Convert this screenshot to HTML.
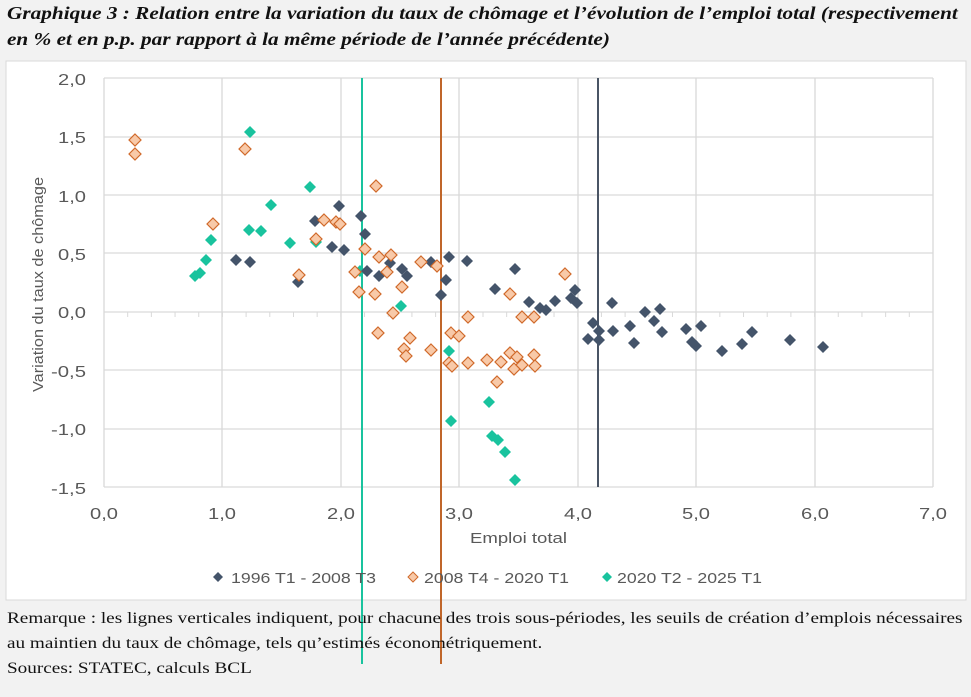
<!DOCTYPE html>
<html><head><meta charset="utf-8"><style>
body{margin:0;width:971px;height:697px;background:#f2f2f2;overflow:hidden;position:relative;font-family:"Liberation Sans",sans-serif}
.t{position:absolute;left:7px;font-family:"Liberation Serif",serif;font-weight:bold;font-style:italic;font-size:17.5px;color:#111;white-space:nowrap;transform-origin:0 0;transform:scaleX(1.215)}
.r{position:absolute;left:7px;font-family:"Liberation Serif",serif;font-size:16px;color:#111;white-space:nowrap;transform-origin:0 0;transform:scaleX(1.2)}
svg{position:absolute;left:0;top:0}
</style></head><body>
<div class="t" style="top:3px">Graphique 3 : Relation entre la variation du taux de chômage et l’évolution de l’emploi total (respectivement</div>
<div class="t" style="top:29px">en % et en p.p. par rapport à la même période de l’année précédente)</div>
<svg width="971" height="697" viewBox="0 0 971 697">
<rect x="6" y="61" width="960" height="539" fill="#fff" stroke="#d9d9d9"/>
<g stroke="#d9d9d9" stroke-width="1.3">
<line x1="104" y1="78" x2="933" y2="78"/><line x1="104" y1="137" x2="933" y2="137"/><line x1="104" y1="195" x2="933" y2="195"/><line x1="104" y1="253" x2="933" y2="253"/><line x1="104" y1="370" x2="933" y2="370"/><line x1="104" y1="429" x2="933" y2="429"/><line x1="104" y1="487" x2="933" y2="487"/>
<line x1="104" y1="78" x2="104" y2="487"/><line x1="222" y1="78" x2="222" y2="487"/><line x1="341" y1="78" x2="341" y2="487"/><line x1="459" y1="78" x2="459" y2="487"/><line x1="578" y1="78" x2="578" y2="487"/><line x1="696" y1="78" x2="696" y2="487"/><line x1="815" y1="78" x2="815" y2="487"/><line x1="933" y1="78" x2="933" y2="487"/>
<line x1="104" y1="312" x2="933" y2="312"/>
</g>
<g stroke="#d9d9d9" stroke-width="1" id="tk"></g>
<g font-size="16" fill="#595959" text-anchor="end" lengthAdjust="spacingAndGlyphs">
<text x="86" y="85" textLength="28">2,0</text><text x="86" y="143" textLength="28">1,5</text><text x="86" y="202" textLength="28">1,0</text><text x="86" y="260" textLength="28">0,5</text><text x="86" y="318" textLength="28">0,0</text><text x="86" y="377" textLength="35">-0,5</text><text x="86" y="435" textLength="35">-1,0</text><text x="86" y="494" textLength="35">-1,5</text>
</g>
<g font-size="16" fill="#595959" text-anchor="middle">
<text x="104" y="519" textLength="28">0,0</text><text x="222" y="519" textLength="28">1,0</text><text x="341" y="519" textLength="28">2,0</text><text x="459" y="519" textLength="28">3,0</text><text x="578" y="519" textLength="28">4,0</text><text x="696" y="519" textLength="28">5,0</text><text x="815" y="519" textLength="28">6,0</text><text x="933" y="519" textLength="28">7,0</text>
</g>
<g font-size="15" fill="#595959">
<text x="470" y="543" textLength="97" lengthAdjust="spacingAndGlyphs">Emploi total</text>
<text transform="translate(43,392) rotate(-90)" textLength="215" lengthAdjust="spacingAndGlyphs">Variation du taux de chômage</text>
</g>
<line x1="362" y1="78" x2="362" y2="664" stroke="#19c39e" stroke-width="2"/>
<line x1="441" y1="78" x2="441" y2="664" stroke="#c0662a" stroke-width="2"/>
<line x1="598" y1="78" x2="598" y2="487" stroke="#4a5565" stroke-width="2"/>
<g id="pts"></g>
<g font-size="15" fill="#595959">
<path d="M218 572 l5 5 -5 5 -5 -5z" fill="#44546a"/><text x="231" y="583" textLength="145" lengthAdjust="spacingAndGlyphs">1996 T1 - 2008 T3</text>
<path d="M413 572 l5 5 -5 5 -5 -5z" fill="#f8c9a8" stroke="#d0692a"/><text x="424" y="583" textLength="145" lengthAdjust="spacingAndGlyphs">2008 T4 - 2020 T1</text>
<path d="M607 572 l5 5 -5 5 -5 -5z" fill="#19c39e"/><text x="617" y="583" textLength="145" lengthAdjust="spacingAndGlyphs">2020 T2 - 2025 T1</text>
</g>
</svg>
<div class="r" style="top:610px">Remarque : les lignes verticales indiquent, pour chacune des trois sous-périodes, les seuils de création d’emplois nécessaires</div>
<div class="r" style="top:635px">au maintien du taux de chômage, tels qu’estimés économétriquement.</div>
<div class="r" style="top:660px">Sources: STATEC, calculs BCL</div>
<script>
var ns="http://www.w3.org/2000/svg";
document.querySelectorAll("text[textLength]").forEach(function(t){t.setAttribute("lengthAdjust","spacingAndGlyphs");});
var tk=document.getElementById("tk");
for(var i=0;i<=35;i++){var x=104+i*118.43/5;var l=document.createElementNS(ns,"line");l.setAttribute("x1",x);l.setAttribute("x2",x);l.setAttribute("y1",312);l.setAttribute("y2",317);tk.appendChild(l);}
var g=document.getElementById("pts");
function d(x,y,f,s){var p=document.createElementNS(ns,"path");p.setAttribute("d","M"+x+" "+(y-6)+"l6 6-6 6-6-6z");p.setAttribute("fill",f);if(s){p.setAttribute("stroke",s);p.setAttribute("stroke-width","1.2");}g.appendChild(p);}
var O=[[135,140],[135,154],[245,149],[376,186],[213,224],[324,220],[336,222],[340,224],[316,239],[365,249],[379,257],[391,255],[421,262],[437,266],[299,275],[355,272],[387,272],[402,287],[359,292],[375,294],[393,313],[468,317],[510,294],[565,274],[522,317],[534,317],[378,333],[410,338],[451,333],[459,336],[404,349],[406,356],[431,350],[449,363],[452,366],[468,363],[487,360],[501,362],[510,353],[517,357],[534,355],[514,369],[522,365],[535,366],[497,382]];
var D=[[339,206],[315,221],[361,216],[365,234],[332,247],[344,250],[236,260],[250,262],[298,282],[367,271],[379,276],[390,263],[402,269],[407,276],[431,262],[449,257],[467,261],[446,280],[441,295],[515,269],[495,289],[529,302],[540,308],[546,310],[555,301],[575,290],[571,298],[577,303],[612,303],[593,323],[599,331],[588,339],[599,340],[613,331],[630,326],[634,343],[645,312],[654,321],[660,309],[662,332],[686,329],[692,342],[696,346],[701,326],[722,351],[742,344],[752,332],[790,340],[823,347]];
var T=[[250,132],[310,187],[271,205],[249,230],[261,231],[211,240],[290,243],[206,260],[200,273],[195,276],[316,242],[360,271],[401,306],[449,351],[489,402],[451,421],[492,436],[498,440],[505,452],[515,480]];
T.forEach(function(p){d(p[0],p[1],"#19c39e");});
D.forEach(function(p){d(p[0],p[1],"#44546a");});
O.forEach(function(p){d(p[0],p[1],"#f8c9a8","#d0692a");});
</script>
</body></html>
